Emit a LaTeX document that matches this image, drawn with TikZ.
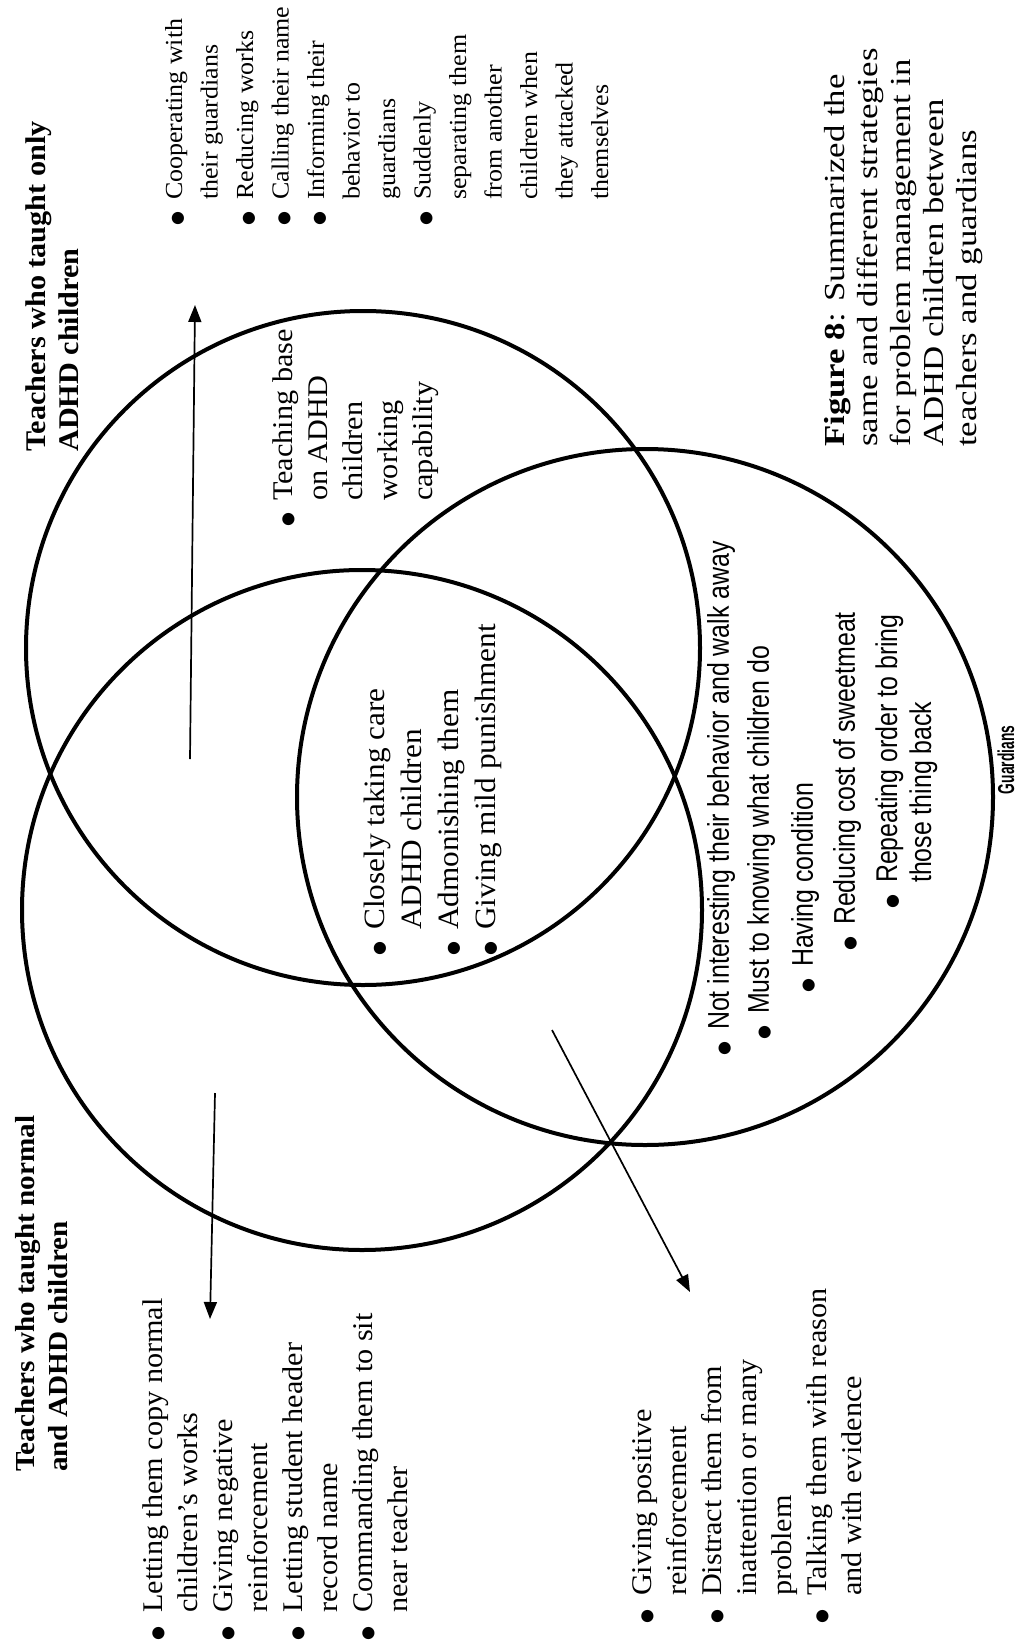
\documentclass[tikz,border=0pt]{standalone}
\usepackage{fontspec}
\setmainfont[FakeStretch=1.06]{Liberation Serif}
\newfontfamily\capfont[FakeStretch=1.2]{Liberation Serif}
\newfontfamily\narrowfont[FakeStretch=0.83]{Liberation Sans}
\newfontfamily\gdfont[FakeStretch=0.6]{Liberation Sans}
\newfontfamily\symfont{DejaVu Sans}
\newcommand{\bul}{{\symfont\fontsize{16}{16}\selectfont ●}}
\usetikzlibrary{arrows.meta}
\begin{document}
\begin{tikzpicture}[x=1pt,y=-1pt,
  ring/.style={line width=4pt,draw=black},
  arr/.style={line width=1.7pt,-{Triangle[length=17pt,width=13pt]}},
  txt/.style={rotate=90,anchor=north west,inner sep=0pt,align=left},
  body/.style={font=\fontsize{28.5}{35}\selectfont},
  head/.style={font=\fontsize{28.5}{33}\selectfont\bfseries},
  cond/.style={font=\narrowfont\fontsize{30}{34}\selectfont}]
\useasboundingbox (0,0) rectangle (1026,1648);
\fill[white] (0,0) rectangle (1026,1648);

% circles
\draw[ring] (363,648) circle[radius=337];
\draw[ring] (362,910) circle[radius=340];
\draw[ring] (645,797) circle[radius=348];

% arrows
\coordinate (upS) at (190,759);
\coordinate (upE) at (195,305);
\coordinate (dnS) at (215,1093);
\coordinate (dnE) at (210,1319);
\coordinate (dgS) at (552,1030);
\coordinate (dgE) at (690,1292);
\draw[arr] (upS) -- (upE);
\draw[arr] (dnS) -- (dnE);
\draw[arr] (dgS) -- (dgE);

% headers
\node[txt,head,font=\fontsize{27.5}{33}\selectfont\bfseries] (hL) at (15,1472) {Teachers who taught normal\\and ADHD children};
\node[txt,head] (hT) at (26,452) {Teachers who taught only\\ADHD children};

% left list
\node[txt,body] (lL) at (138,1641) {\begin{tabular}{@{}l@{\hspace{14pt}}l@{}}
\bul & Letting them copy normal\\
 & children's works\\
\bul & Giving negative\\
 & reinforcement\\
\bul & Letting student header\\
 & record name\\
\bul & Commanding them to sit\\
 & near teacher
\end{tabular}};

% bottom list
\node[txt,body] (lB) at (627,1624) {\begin{tabular}{@{}l@{\hspace{14pt}}l@{}}
\bul & Giving positive\\
 & reinforcement\\
\bul & Distract them from\\
 & inattention or many\\
 & problem\\
\bul & Talking them with reason\\
 & and with evidence
\end{tabular}};

% top right list
\node[txt,body,font=\fontsize{24.5}{35.5}\selectfont] (lT) at (157,226) {\begin{tabular}{@{}l@{\hspace{12pt}}l@{}}
\bul & Cooperating with\\
 & their guardians\\
\bul & Reducing works\\
\bul & Calling their name\\
\bul & Informing their\\
 & behavior to\\
 & guardians\\
\bul & Suddenly\\
 & separating them\\
 & from another\\
 & children when\\
 & they attacked\\
 & themselves
\end{tabular}};

% teaching base
\node[txt,body] (tb) at (268,527) {\begin{tabular}{@{}l@{\hspace{12pt}}l@{}}
\bul & Teaching base\\
 & on ADHD\\
 & children\\
 & working\\
 & capability
\end{tabular}};

% center list
\node[txt,body,font=\fontsize{29.5}{37}\selectfont] (cL) at (358,956) {\begin{tabular}{@{}l@{\hspace{12pt}}l@{}}
\bul & Closely taking care\\
 & ADHD children\\
\bul & Admonishing them\\
\bul & Giving mild punishment
\end{tabular}};

% guardians only list
\node[txt,cond] (g1) at (707,1056) {\bul\hspace{12pt}Not interesting their behavior and walk away};
\node[txt,cond] (g2) at (747,1040) {\bul\hspace{12pt}Must to knowing what children do};
\node[txt,cond] (g3) at (791,993) {\bul\hspace{12pt}Having condition};
\node[txt,cond] (g4) at (833,951) {\bul\hspace{12pt}Reducing cost of sweetmeat};
\node[txt,cond] (g5) at (873,909) {\begin{tabular}{@{}l@{\hspace{12pt}}l@{}}
\bul & Repeating order to bring\\
 & those thing back
\end{tabular}};

\node[rotate=90,inner sep=0pt,font=\gdfont\fontsize{23}{26}\selectfont\bfseries] (gd) at (1006,760) {Guardians};

% caption
\node[txt,font=\capfont\fontsize{29}{33}\selectfont] (cap) at (824,447) {\textbf{Figure 8}: Summarized the\\same and different strategies\\for problem management in\\ADHD children between\\teachers and guardians};
\end{tikzpicture}
\end{document}
